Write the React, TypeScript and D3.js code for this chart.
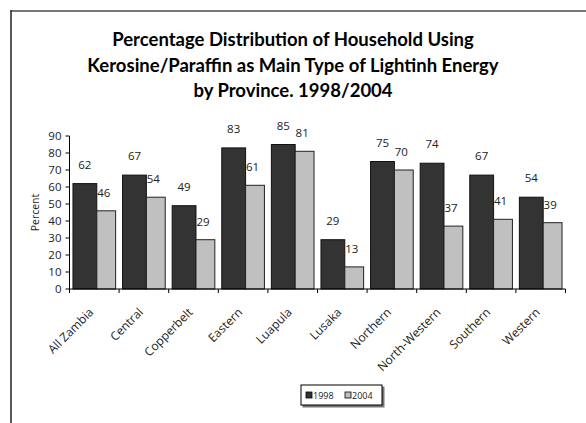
import * as d3 from "d3";
import { useEffect, useRef } from "react";

const provinces = [
    "All Zambia",
    "Central",
    "Copperbelt",
    "Eastern",
    "Luapula",
    "Lusaka",
    "Northern",
    "North-Western",
    "Southern",
    "Western",
];
const values1998 = [62, 67, 49, 83, 85, 29, 75, 74, 67, 54];
const values2004 = [46, 54, 29, 61, 81, 13, 70, 37, 41, 39];
const yTicks = [0, 10, 20, 30, 40, 50, 60, 70, 80, 90];
const titleLines = [
    "Percentage Distribution of Household Using",
    "Kerosine/Paraffin as Main Type of Lightinh Energy",
    "by Province. 1998/2004",
];

const FONT = "'Open Sans', 'DejaVu Sans', sans-serif";
const TITLE_FONT = "Lato, 'Open Sans', sans-serif";

export default function App() {
    const ref = useRef<SVGSVGElement | null>(null);

    useEffect(() => {
        if (!ref.current) return;
        const svg = d3.select(ref.current);
        svg.selectAll("*").remove();

        const width = 586;
        const height = 423;
        svg.attr("width", width).attr("height", height);

        // outer frame (only top and left edges are visible)
        svg.append("line")
            .attr("x1", 11).attr("y1", 11).attr("x2", width).attr("y2", 11)
            .attr("stroke", "#777").attr("stroke-width", 2);
        svg.append("line")
            .attr("x1", 11).attr("y1", 10).attr("x2", 11).attr("y2", height)
            .attr("stroke", "#222").attr("stroke-width", 1.5);

        // title
        svg.append("g")
            .selectAll("text")
            .data(titleLines)
            .join("text")
            .attr("x", 293)
            .attr("y", (_, i) => 46 + i * 25.5)
            .attr("text-anchor", "middle")
            .attr("font-family", TITLE_FONT)
            .attr("font-weight", "bold")
            .attr("font-size", 18.5)
            .attr("fill", "#000")
            .text((d) => d);

        const left = 69.5;
        const right = 565.5;
        const top = 136;
        const bottom = 289;

        const x = d3.scaleBand().domain(provinces).range([left, right]).padding(0);
        const y = d3.scaleLinear().domain([0, 90]).range([bottom, top]);
        const bw = x.bandwidth();
        const pad = bw * 0.07;
        const darkW = bw * 0.48;
        const lightW = bw * 0.38;

        const g = svg.append("g");

        provinces.forEach((p, i) => {
            const x0 = x(p)! + pad;
            g.append("rect")
                .attr("x", x0)
                .attr("y", y(values1998[i]))
                .attr("width", darkW)
                .attr("height", y(0) - y(values1998[i]))
                .attr("fill", "#333333")
                .attr("stroke", "#111")
                .attr("stroke-width", 1);
            g.append("rect")
                .attr("x", x0 + darkW)
                .attr("y", y(values2004[i]))
                .attr("width", lightW)
                .attr("height", y(0) - y(values2004[i]))
                .attr("fill", "#c0c0c0")
                .attr("stroke", "#222")
                .attr("stroke-width", 1);

            g.append("text")
                .attr("x", x0 + darkW / 2)
                .attr("y", y(values1998[i]) - 15)
                .attr("text-anchor", "middle")
                .attr("font-family", FONT)
                .attr("font-size", 11.5)
                .attr("fill", "#222")
                .text(values1998[i]);
            g.append("text")
                .attr("x", x0 + darkW + 7)
                .attr("y", y(values2004[i]) - 14)
                .attr("text-anchor", "middle")
                .attr("font-family", FONT)
                .attr("font-size", 11.5)
                .attr("fill", "#222")
                .text(values2004[i]);
        });

        // y axis
        const yAxis = svg.append("g").attr("transform", `translate(${left},0)`);
        yAxis.append("line")
            .attr("x1", 0).attr("x2", 0).attr("y1", top).attr("y2", bottom)
            .attr("stroke", "#000");
        yTicks.forEach((t) => {
            yAxis.append("line")
                .attr("x1", -4).attr("x2", 0).attr("y1", y(t)).attr("y2", y(t))
                .attr("stroke", "#000");
            yAxis.append("text")
                .attr("x", -8)
                .attr("y", y(t))
                .attr("dy", "0.35em")
                .attr("text-anchor", "end")
                .attr("font-family", FONT)
                .attr("font-size", 11.5)
                .attr("fill", "#222")
                .text(t);
        });
        svg.append("text")
            .attr("transform", `translate(39,${(top + bottom) / 2}) rotate(-90)`)
            .attr("text-anchor", "middle")
            .attr("font-family", FONT)
            .attr("font-size", 10.5)
            .attr("fill", "#222")
            .text("Percent");

        // x axis
        const xAxis = svg.append("g");
        xAxis.append("line")
            .attr("x1", left).attr("x2", right).attr("y1", bottom).attr("y2", bottom)
            .attr("stroke", "#000");
        [...provinces.map((p) => x(p)!), right].forEach((px) => {
            xAxis.append("line")
                .attr("x1", px).attr("x2", px).attr("y1", bottom).attr("y2", bottom + 4)
                .attr("stroke", "#000");
        });
        provinces.forEach((p) => {
            const cx = x(p)! + bw / 2;
            xAxis.append("text")
                .attr("transform", `translate(${cx},${bottom + 24}) rotate(-45)`)
                .attr("text-anchor", "end")
                .attr("font-family", FONT)
                .attr("font-size", 12)
                .attr("fill", "#222")
                .text(p);
        });

        // legend
        const lg = svg.append("g").attr("transform", "translate(301,385)");
        lg.append("rect")
            .attr("x", 1.5).attr("y", 1.5).attr("width", 82).attr("height", 21)
            .attr("fill", "#777");
        lg.append("rect")
            .attr("x", 0).attr("y", 0).attr("width", 81).attr("height", 20)
            .attr("fill", "#fff").attr("stroke", "#000").attr("stroke-width", 1);
        const items = [
            { label: "1998", fill: "#333333", dx: 5 },
            { label: "2004", fill: "#c0c0c0", dx: 44 },
        ];
        items.forEach((it) => {
            lg.append("rect")
                .attr("x", it.dx).attr("y", 7).attr("width", 6).attr("height", 6)
                .attr("fill", it.fill).attr("stroke", "#000").attr("stroke-width", 0.8);
            lg.append("text")
                .attr("x", it.dx + 7)
                .attr("y", 14)
                .attr("font-family", FONT)
                .attr("font-size", 9)
                .attr("fill", "#222")
                .text(it.label);
        });
    }, []);

    return (
        <svg
            ref={ref}
            style={{ position: "absolute", left: 0, top: 0, display: "block", background: "#fff" }}
        ></svg>
    );
}
